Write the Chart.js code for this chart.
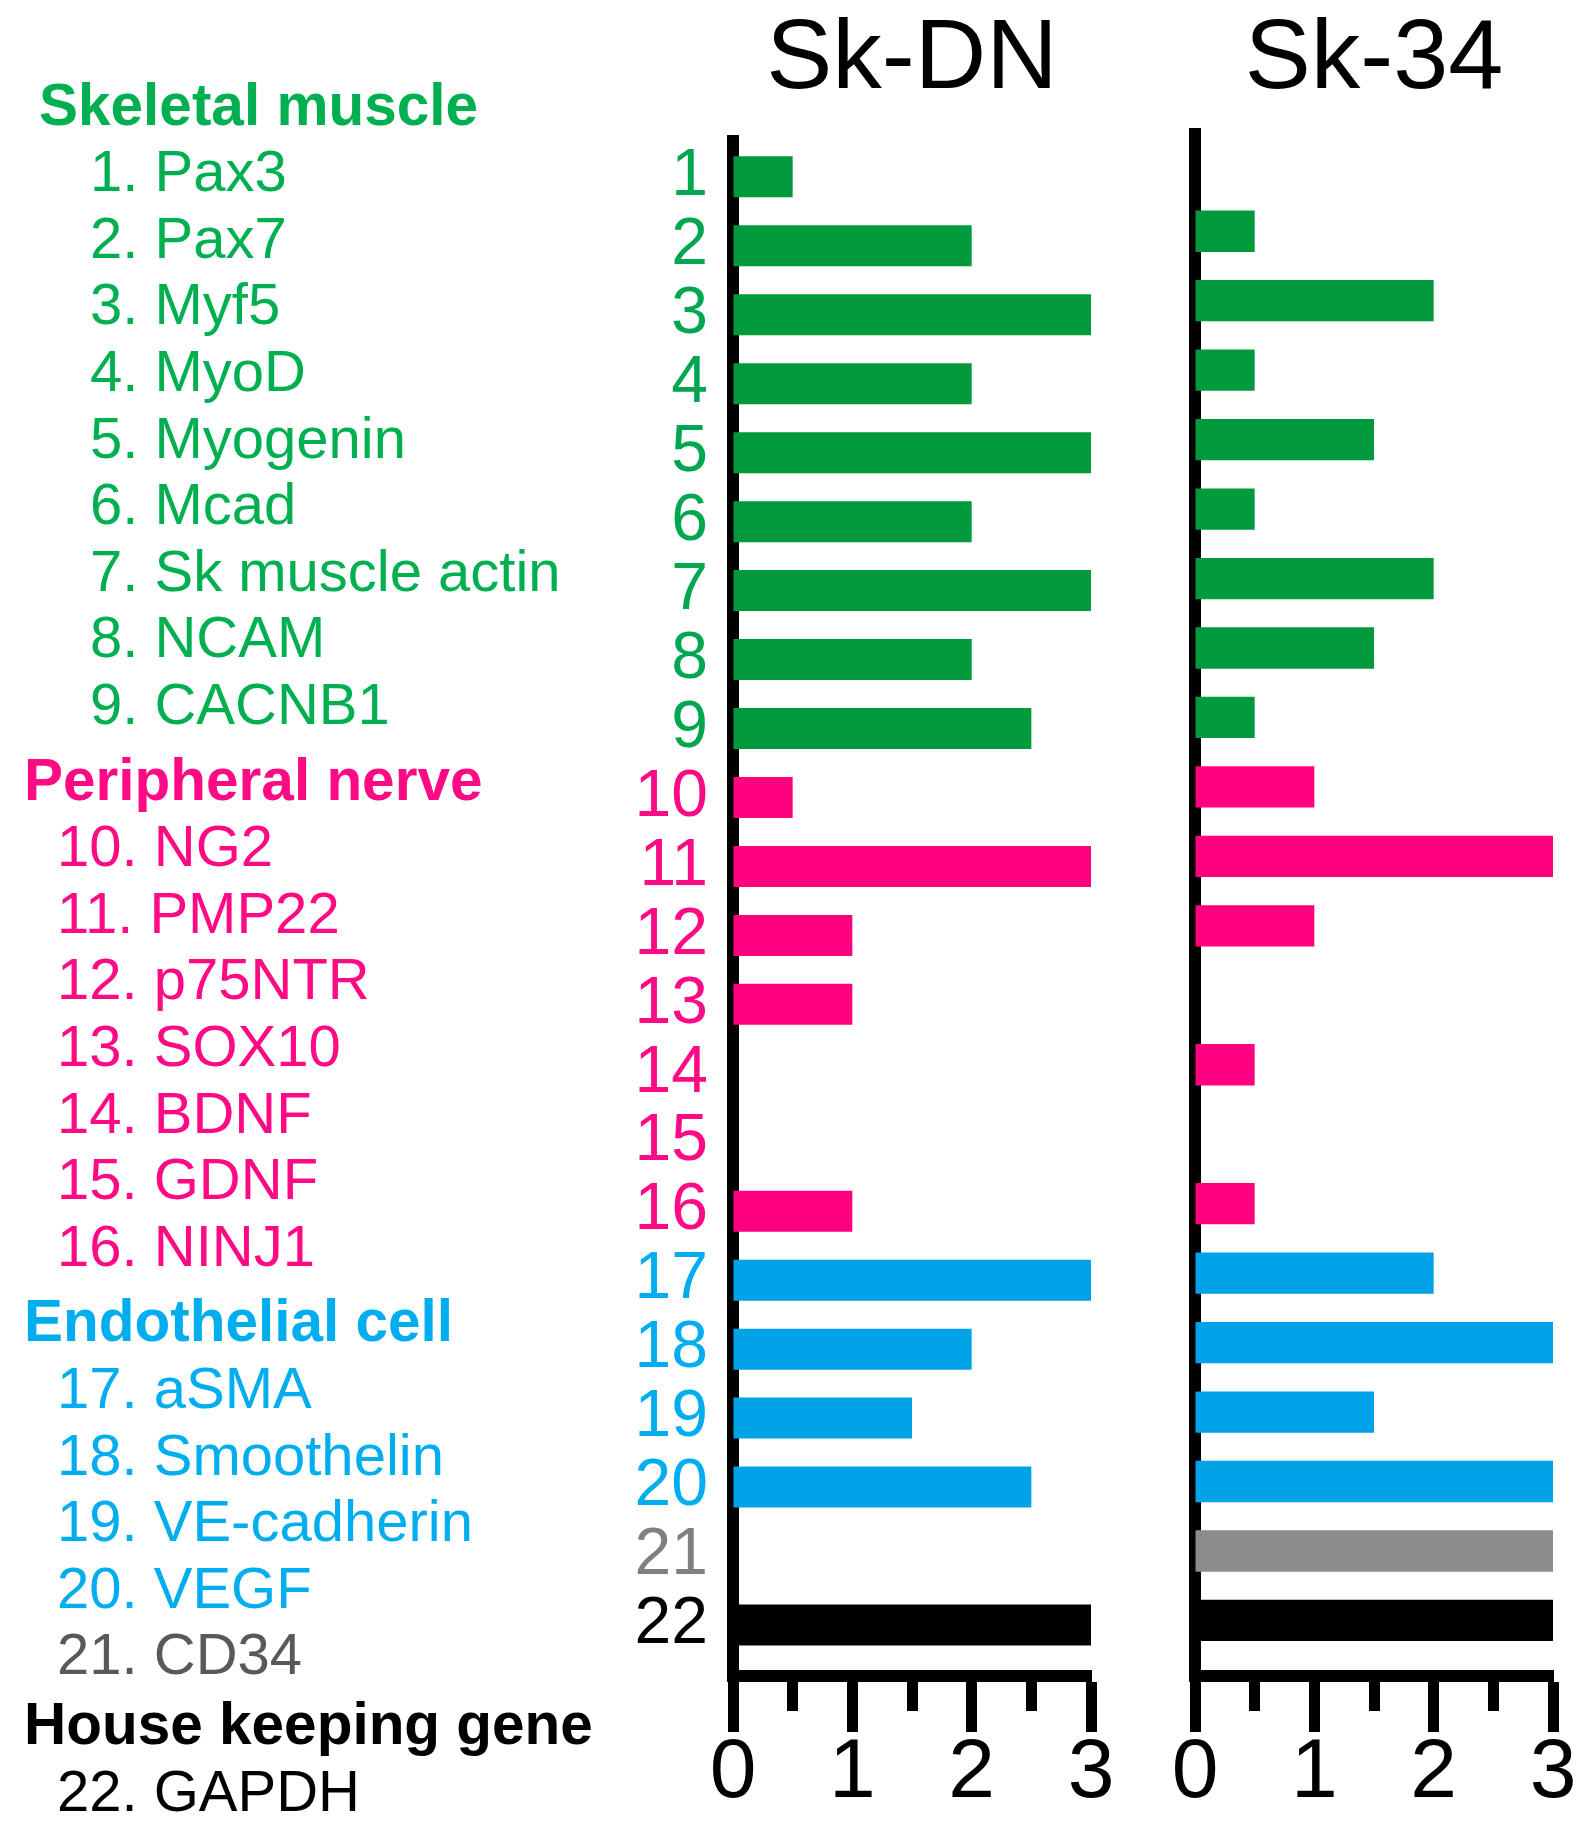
<!DOCTYPE html>
<html><head><meta charset="utf-8">
<script src="https://cdn.jsdelivr.net/npm/chart.js@4.4.1/dist/chart.umd.min.js"></script>
<style>
html,body{margin:0;padding:0;background:#fff;}
#wrap{position:relative;width:1593px;height:1836px;overflow:hidden;background:#fff;}
canvas{position:absolute;top:0;}
.lbl{position:absolute;white-space:nowrap;font-family:"Liberation Sans",Arial,sans-serif;font-size:58px;line-height:58px;}
.hdr{font-weight:bold;font-size:58.5px;}
</style></head><body>
<div id="wrap">
<div id="legend"></div>
<canvas id="c1" width="600" height="1836" style="left:540px"></canvas>
<canvas id="c2" width="453" height="1836" style="left:1140px"></canvas>
</div>
<script>
// ---- data ----
const geneIds = [1,2,3,4,5,6,7,8,9,10,11,12,13,14,15,16,17,18,19,20,21,22];
const geneNames = ['Pax3','Pax7','Myf5','MyoD','Myogenin','Mcad','Sk muscle actin','NCAM','CACNB1',
  'NG2','PMP22','p75NTR','SOX10','BDNF','GDNF','NINJ1',
  'aSMA','Smoothelin','VE-cadherin','VEGF','CD34','GAPDH'];
const geneGroups = ['muscle','muscle','muscle','muscle','muscle','muscle','muscle','muscle','muscle',
  'nerve','nerve','nerve','nerve','nerve','nerve','nerve',
  'endo','endo','endo','endo','cd34','house'];
const groupTitles = {muscle:'Skeletal muscle', nerve:'Peripheral nerve', endo:'Endothelial cell', house:'House keeping gene'};
const panelTitles = ['Sk-DN','Sk-34'];
const skDN = [0.5,2,3,2,3,2,3,2,2.5, 0.5,3,1,1,0,0,1, 3,2,1.5,2.5, 0, 3];
const sk34 = [0,0.5,2,0.5,1.5,0.5,2,1.5,0.5, 1,3,1,0,0.5,0,0.5, 2,3,1.5,3, 3, 3];

// ---- styles ----
const FONT = '"Liberation Sans", Arial, sans-serif';
const textColor = {muscle:'#00B050', nerve:'#FF0A85', endo:'#00AEEF', cd34:'#595959', house:'#000000'};
const axisLabelColor = {muscle:'#00A650', nerve:'#FF0A85', endo:'#00AEEF', cd34:'#808080', house:'#000000'};
const barColor = {muscle:'#009A3D', nerve:'#FF0080', endo:'#00A3E8', cd34:'#8C8C8C', house:'#000000'};
const headerX = {muscle:39, nerve:24, endo:24, house:24};
const headerGap = {muscle:0, nerve:9, endo:9, house:3};

// ---- legend column (HTML text) ----
(function(){
  const box = document.getElementById('legend');
  let line = 0, extra = 0, prev = null;
  function add(text, x, cy, color, bold){
    const d = document.createElement('div');
    d.className = 'lbl' + (bold ? ' hdr' : '');
    d.textContent = text;
    d.style.left = x + 'px';
    d.style.top = (cy - 28.5) + 'px';
    d.style.color = color;
    box.appendChild(d);
  }
  geneIds.forEach((id, i) => {
    const g = geneGroups[i];
    if (g !== prev && groupTitles[g]) {
      extra += headerGap[g];
      add(groupTitles[g], headerX[g], 104 + line*66.6 + extra, textColor[g], true);
      line++;
    }
    prev = g;
    add(id + '. ' + geneNames[i], id < 10 ? 90 : 57, 104 + line*66.6 + extra, textColor[g], false);
    line++;
  });
})();

// ---- charts ----
function makeChart(el, title, values, cfg){
  return new Chart(el, {
    type:'bar',
    data:{labels: geneIds, datasets:[{
      data: values,
      backgroundColor: geneGroups.map(g => barColor[g]),
      borderWidth: 0,
      barPercentage: 0.595,
      categoryPercentage: 1
    }]},
    options:{
      indexAxis:'y', responsive:false, animation:false, events:[],
      layout:{padding:{top:0, bottom:20, left:0, right:cfg.padRight}},
      plugins:{
        legend:{display:false}, tooltip:{enabled:false},
        title:{display:true, text:title, fullSize:false, color:'#000',
          font:{family:FONT, size:99, weight:'normal', lineHeight:1},
          padding:{top:11, bottom:cfg.titleBottom}}
      },
      scales:{
        x:{type:'linear', position:'bottom', min:0, max:3, z:1, offset:false,
          ticks:{stepSize:0.5, autoSkip:false, maxRotation:0, padding:0, color:'#000',
            font:{family:FONT, size:84, lineHeight:1},
            callback: v => Number.isInteger(v) ? String(v) : ''},
          grid:{drawOnChartArea:false, drawTicks:true, tickLength:56, tickWidth:11, tickColor:'#000',
            tickBorderDash: ctx => (ctx.tick && Number.isInteger(ctx.tick.value)) ? [] : [29, 200]},
          border:{display:true, color:'#000', width:12}},
        y:{type:'linear', position:'left', reverse:true, min:cfg.yMin, max:cfg.yMax, z:1,
          offset:false,
          afterBuildTicks: s => { s.ticks = geneIds.map(v => ({value:v})); },
          afterFit: s => { s.width = cfg.yWidth; },
          ticks:{display:cfg.showLabels, autoSkip:false, padding:25,
            color: ctx => axisLabelColor[geneGroups[ctx.index]] || '#000',
            font:{family:FONT, size:66, lineHeight:1},
            callback: v => String(v)},
          grid:{display:false, drawTicks:false, offset:false},
          border:{display:true, color:'#000', width:12}}
      }
    }
  });
}
makeChart(document.getElementById('c1'), panelTitles[0], skDN,
  {padRight:49, titleBottom:31, yMin:0.48, yMax:22.74, yWidth:193, showLabels:true});
makeChart(document.getElementById('c2'), panelTitles[1], sk34,
  {padRight:40, titleBottom:24, yMin:0.60, yMax:22.80, yWidth:55, showLabels:false});
</script>
</body></html>
